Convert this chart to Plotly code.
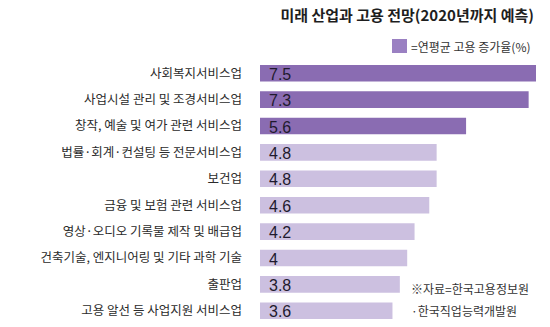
import plotly.graph_objects as go

# Projected average annual employment growth by industry (through 2020)
industries = [
    "사회복지서비스업",
    "사업시설 관리 및 조경서비스업",
    "창작, 예술 및 여가 관련 서비스업",
    "법률·회계·컨설팅 등 전문서비스업",
    "보건업",
    "금융 및 보험 관련 서비스업",
    "영상·오디오 기록물 제작 및 배급업",
    "건축기술, 엔지니어링 및 기타 과학 기술",
    "출판업",
    "고용 알선 등 사업지원 서비스업",
]
growth = [7.5, 7.3, 5.6, 4.8, 4.8, 4.6, 4.2, 4, 3.8, 3.6]
top_n = 3

DARK = "#8a6cb2"
LIGHT = "#ccc0e0"
KR = "Noto Sans CJK KR"
NUM = "Liberation Sans, Arial"

W, H = 550, 327
ML, MR, MT, MB = 260, 0, 60, 3
PW, PH = W - ML - MR, H - MT - MB


def px_x(x):
    return (x - ML) / PW


def px_y(y):
    return (H - MB - y) / PH


colors = [DARK if i < top_n else LIGHT for i in range(len(growth))]

fig = go.Figure(
    go.Bar(
        x=growth,
        y=industries,
        orientation="h",
        marker=dict(color=colors, line=dict(width=0)),
        width=0.63,
        hoverinfo="skip",
    )
)

# value labels near the left end of each bar
for name, v in zip(industries, growth):
    fig.add_annotation(
        x=0,
        y=name,
        xref="x",
        yref="y",
        text=f"{v:g}",
        showarrow=False,
        xanchor="left",
        yanchor="middle",
        xshift=7,
        yshift=-1,
        font=dict(family=NUM, size=16, color="#1f1a2e"),
    )

fig.update_layout(
    width=W,
    height=H,
    margin=dict(l=ML, r=MR, t=MT, b=MB, autoexpand=False),
    paper_bgcolor="white",
    plot_bgcolor="white",
    showlegend=False,
    title=dict(
        text="<b>미래 산업과 고용 전망(2020년까지 예측)</b>",
        font=dict(family=KR, size=15, color="#1e1e1e"),
        xref="container",
        yref="container",
        x=534 / W,
        xanchor="right",
        y=1 - 16 / H,
        yanchor="middle",
    ),
    xaxis=dict(
        range=[0, PW / 36.8],
        visible=False,
        fixedrange=True,
    ),
    yaxis=dict(
        autorange="reversed",
        showgrid=False,
        zeroline=False,
        showline=False,
        ticks="",
        ticklabelstandoff=17,
        tickfont=dict(family=KR, size=12.5, color="#2b2b2b"),
        automargin=False,
    ),
)

# legend swatch and caption
fig.add_shape(
    type="rect",
    xref="paper",
    yref="paper",
    x0=px_x(392),
    x1=px_x(407),
    y0=px_y(53),
    y1=px_y(39),
    fillcolor="#9a80c2",
    line=dict(width=0),
)
fig.add_annotation(
    xref="paper",
    yref="paper",
    x=px_x(409),
    y=px_y(46),
    xanchor="left",
    yanchor="middle",
    showarrow=False,
    text="=연평균 고용 증가율(%)",
    font=dict(family=KR, size=12, color="#333333"),
)

# source note
for line, yy in [("※자료=한국고용정보원", 288), ("·한국직업능력개발원", 310.5)]:
    fig.add_annotation(
        xref="paper",
        yref="paper",
        x=px_x(409),
        y=px_y(yy),
        xanchor="left",
        yanchor="middle",
        showarrow=False,
        text=line,
        font=dict(family=KR, size=12, color="#333333"),
    )

fig.write_html("out.html")
